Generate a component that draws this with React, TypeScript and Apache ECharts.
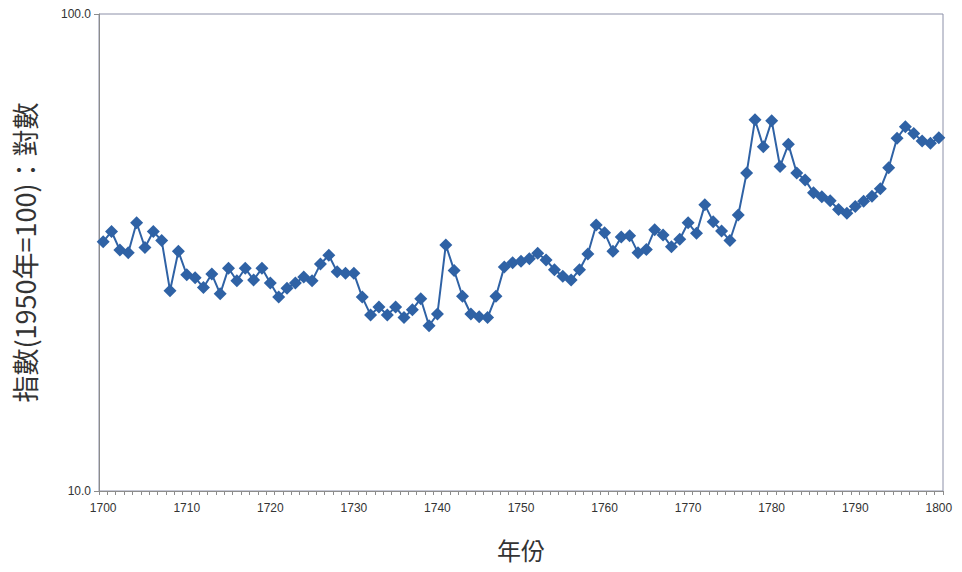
import React, { useEffect, useRef } from "react";
import * as echarts from "echarts";

const years: string[] = [];
for (let y = 1700; y <= 1800; y++) years.push(String(y));

const indexValues: number[] = [
  33.3, 35.0, 32.0, 31.6, 36.5, 32.4, 35.0, 33.5, 26.3, 31.8,
  28.4, 28.0, 26.7, 28.5, 25.9, 29.3, 27.6, 29.3, 27.7, 29.3,
  27.3, 25.5, 26.6, 27.3, 28.1, 27.6, 29.9, 31.2, 28.8, 28.6,
  28.6, 25.5, 23.4, 24.3, 23.4, 24.3, 23.1, 24.0, 25.3, 22.2,
  23.5, 32.8, 29.0, 25.6, 23.5, 23.2, 23.1, 25.6, 29.5, 30.1,
  30.3, 30.7, 31.5, 30.5, 29.1, 28.2, 27.7, 29.1, 31.4, 36.1,
  34.8, 31.8, 34.1, 34.3, 31.6, 32.1, 35.3, 34.4, 32.5, 33.7,
  36.5, 34.7, 39.8, 36.7, 35.1, 33.5, 37.9, 46.4, 60.0, 52.7,
  59.7, 47.9, 53.3, 46.4, 44.9, 42.2, 41.4, 40.6, 38.9, 38.2,
  39.5, 40.5, 41.5, 43.0, 47.6, 54.9, 58.0, 56.2, 54.2, 53.6,
  55.0,
];

const yTickLabels = ["10.0", "100.0"];
const xAxisTitle = "年份";
const yAxisTitle = "指數(1950年=100)：對數";

export default function App() {
  const ref = useRef<HTMLDivElement>(null);
  useEffect(() => {
    if (!ref.current) return;
    const chart = echarts.init(ref.current, undefined, { renderer: "svg" });
    chart.setOption({
      animation: false,
      backgroundColor: "#ffffff",
      grid: {
        left: 99,
        right: 19,
        top: 14,
        bottom: 81,
        show: true,
        borderColor: "#8c90a8",
        borderWidth: 1,
        backgroundColor: "transparent",
      },
      xAxis: {
        type: "category",
        data: years,
        boundaryGap: true,
        name: xAxisTitle,
        nameLocation: "middle",
        nameGap: 46,
        nameTextStyle: {
          fontFamily: "Noto Sans CJK TC",
          fontSize: 24,
          color: "#333333",
          verticalAlign: "top",
        },
        axisLine: { show: true, lineStyle: { color: "#8c8c8c", width: 1 } },
        axisTick: {
          show: true,
          interval: 0,
          length: 4,
          inside: false,
          lineStyle: { color: "#8c8c8c" },
        },
        axisLabel: {
          interval: (i: number) => i % 10 === 0,
          fontFamily: "Liberation Sans",
          fontSize: 12,
          color: "#333333",
          margin: 11,
        },
        splitLine: { show: false },
      },
      yAxis: {
        type: "log",
        logBase: 10,
        min: 10,
        max: 100,
        name: yAxisTitle,
        nameLocation: "middle",
        nameGap: 61,
        nameRotate: 90,
        nameTextStyle: {
          fontFamily: "Noto Sans CJK TC",
          fontSize: 27,
          color: "#333333",
        },
        axisLine: { show: true, lineStyle: { color: "#8c8c8c", width: 1 } },
        axisTick: { show: true, length: 5, lineStyle: { color: "#8c8c8c" } },
        axisLabel: {
          fontFamily: "Liberation Sans",
          fontSize: 12,
          color: "#333333",
          margin: 8,
          formatter: (v: number) =>
            v <= 10 ? yTickLabels[0] : v >= 100 ? yTickLabels[1] : "",
        },
        splitLine: { show: false },
        minorTick: { show: false },
      },
      series: [
        {
          type: "line",
          data: indexValues,
          symbol: "diamond",
          symbolSize: [13, 13],
          showAllSymbol: true,
          lineStyle: { color: "#2f62a5", width: 2 },
          itemStyle: { color: "#2f62a5" },
        },
      ],
    });
    return () => chart.dispose();
  }, []);
  return (
    <div
      ref={ref}
      style={{ position: "fixed", left: 0, top: 0, width: 962, height: 572 }}
    />
  );
}
